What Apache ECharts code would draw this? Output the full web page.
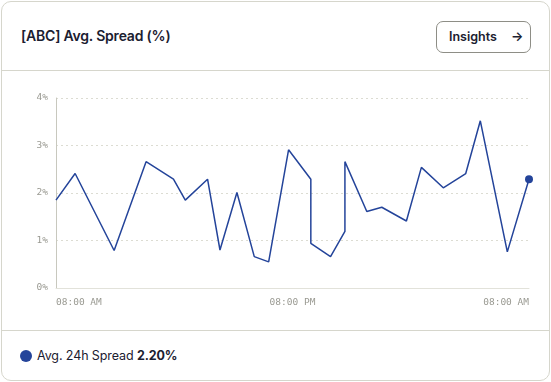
<!DOCTYPE html>
<html>
<head>
<meta charset="utf-8">
<script src="https://cdn.jsdelivr.net/npm/echarts@6/dist/echarts.min.js"></script>
<style>
  html, body { margin: 0; padding: 0; background: #ffffff; width: 551px; height: 382px; overflow: hidden; }
  .card { position: absolute; left: 1px; top: 1px; width: 547px; height: 378px; border: 1px solid #d6d6cc; border-radius: 10px; box-sizing: content-box; background: #fff; font-family: Inter, "Noto Sans", sans-serif; }
  .header { position: absolute; left: 0; top: 0; width: 547px; height: 68px; border-bottom: 1px solid #d6d6cc; }
  .title { position: absolute; left: 19px; top: 25px; font-size: 14px; font-weight: 600; color: #1b2030; letter-spacing: -0.2px; }
  .btn { position: absolute; left: 434px; top: 19px; width: 95px; height: 32px; border: 1px solid #8e8e86; border-radius: 7px; box-sizing: border-box; font-size: 12.5px; font-weight: 600; color: #1b2030; }
  .btn .lbl { position: absolute; left: 12px; top: 7px; }
  .btn .arr { position: absolute; left: 74px; top: 6px; font-size: 13px; }
  #chart { position: absolute; left: -1px; top: 70px; width: 551px; height: 258px; }
  .footer { position: absolute; left: 0; top: 328px; width: 547px; height: 50px; border-top: 1px solid #d6d6cc; }
  .dot { position: absolute; left: 18px; top: 19px; width: 12px; height: 12px; border-radius: 50%; background: #24449a; }
  .ftxt { position: absolute; left: 35px; top: 17px; font-size: 12.5px; color: #1b2030; letter-spacing: -0.1px; }
  .ftxt b { font-weight: 700; }
</style>
</head>
<body>
<div class="card">
  <div class="header">
    <div class="title">[ABC] Avg. Spread (%)</div>
    <div class="btn"><span class="lbl">Insights</span><span class="arr">→</span></div>
  </div>
  <div class="footer">
    <div class="dot"></div>
    <div class="ftxt">Avg. 24h Spread <b>2.20%</b></div>
  </div>
</div>
<div id="chart"></div>
<script>
// hours elapsed since 08:00 AM
const hoursFromStart = [0, 0.97, 2.95, 4.57, 5.96, 6.56, 7.69, 8.32, 9.18, 10.06, 10.79, 11.80, 12.93, 12.93, 13.93, 14.66, 14.66, 15.77, 16.53, 17.78, 18.54, 19.65, 20.79, 21.53, 22.90, 24.0];
const spreadValues = [1.85, 2.41, 0.79, 2.66, 2.29, 1.85, 2.29, 0.80, 2.01, 0.66, 0.55, 2.91, 2.29, 0.94, 0.66, 1.19, 2.66, 1.61, 1.70, 1.41, 2.54, 2.11, 2.41, 3.52, 0.76, 2.29];
const xTickLabels = ['08:00 AM', '08:00 PM', '08:00 AM'];
const yTickLabels = ['0%', '1%', '2%', '3%', '4%'];

const chart = echarts.init(document.getElementById('chart'), null, { renderer: 'canvas' });
const data = hoursFromStart.map((h, i) => [h, spreadValues[i]]);
const lastIdx = data.length - 1;
chart.setOption({
  animation: false,
  grid: { left: 57, right: 21, top: 28, bottom: 40 },
  xAxis: {
    type: 'value', min: 0, max: 24, interval: 12,
    axisLine: { show: true, lineStyle: { color: '#e2e2da', width: 1 } },
    axisTick: { show: false },
    splitLine: { show: false },
    axisLabel: {
      color: '#9a9a92', fontFamily: 'DejaVu Sans Mono', fontSize: 9.5, margin: 10,
      alignMinLabel: 'left', alignMaxLabel: 'right',
      formatter: v => xTickLabels[Math.round(v / 12)]
    }
  },
  yAxis: {
    type: 'value', min: 0, max: 4, interval: 1,
    axisLine: { show: true, lineStyle: { color: '#c8c8be', width: 1 } },
    axisTick: { show: false },
    splitLine: { show: true, lineStyle: { color: '#dcdcd2', type: [2, 3], width: 1 } },
    axisLabel: {
      color: '#9a9a92', fontFamily: 'DejaVu Sans Mono', fontSize: 9.5, margin: 8,
      formatter: v => yTickLabels[Math.round(v)]
    }
  },
  series: [{
    type: 'line',
    data: data.map((d, i) => i === lastIdx ? { value: d, symbol: 'circle', symbolSize: 8 } : { value: d, symbol: 'none' }),
    showSymbol: true,
    symbol: 'none',
    lineStyle: { color: '#24449a', width: 1.5 },
    itemStyle: { color: '#24449a' }
  }]
});
</script>
</body>
</html>
